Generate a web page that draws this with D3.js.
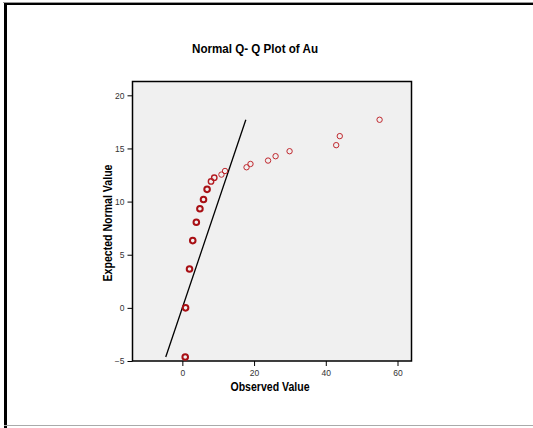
<!DOCTYPE html>
<html><head><meta charset="utf-8">
<script src="https://cdn.jsdelivr.net/npm/d3@7"></script>
<style>body{margin:0;background:#fff}svg{display:block}</style>
</head><body>
<script>
// Data
const observed = [0.8, 0.9, 2.0, 2.9, 3.9, 4.9, 5.9, 6.9, 8.0, 8.9, 10.9, 11.9, 17.9, 19.0, 23.9, 26.0, 29.9, 42.9, 43.9, 55.0];
const expected = [-4.63, 0.0, 3.65, 6.33, 8.06, 9.32, 10.2, 11.15, 11.9, 12.25, 12.54, 12.88, 13.23, 13.54, 13.86, 14.27, 14.74, 15.31, 16.16, 17.7];
const weight   = [3, 3, 3, 3, 3, 3, 3, 3, 2, 2, 1, 1, 1, 1, 1, 1, 1, 1, 1, 1];
const refLine  = [[-4.63, -4.63], [17.7, 17.7]];
const xTicks = [0, 20, 40, 60];
const yTicks = [-5, 0, 5, 10, 15, 20];
const title = "Normal Q- Q Plot of Au";
const xTitle = "Observed Value";
const yTitle = "Expected Normal Value";

const W = 533, H = 428;
const svg = d3.select("body").append("svg").attr("width", W).attr("height", H);

// page frame
svg.append("line").attr("x1",3).attr("x2",W).attr("y1",2.5).attr("y2",2.5).attr("stroke","#999").attr("stroke-width",1);
svg.append("line").attr("x1",4).attr("x2",W).attr("y1",4).attr("y2",4).attr("stroke","#000").attr("stroke-width",2);
svg.append("line").attr("x1",5.5).attr("x2",5.5).attr("y1",3).attr("y2",H).attr("stroke","#000").attr("stroke-width",3);
svg.append("line").attr("x1",4).attr("x2",W).attr("y1",425.5).attr("y2",425.5).attr("stroke","#aaa").attr("stroke-width",1);

const L = 132.5, R = 411.5, T = 81.5, B = 361;
const x = d3.scaleLinear().domain([-13.9, 63.9]).range([L, R]);
const y = d3.scaleLinear().domain([-5, 21.3]).range([B, T]);

svg.append("rect").attr("x",L).attr("y",T).attr("width",R-L).attr("height",B-T).attr("fill","#f0f0f0");

const font = "'Liberation Sans', Arial, sans-serif";

const xa = svg.append("g").attr("transform",`translate(0,${B})`)
  .call(d3.axisBottom(x).tickValues(xTicks).tickSize(5).tickSizeOuter(0).tickFormat(d3.format("d")));
const ya = svg.append("g").attr("transform",`translate(${L},0)`)
  .call(d3.axisLeft(y).tickValues(yTicks).tickSize(5).tickSizeOuter(0).tickFormat(d3.format("d")));
[xa, ya].forEach(g => {
  g.select(".domain").remove();
  g.selectAll(".tick line").attr("stroke","#000").attr("stroke-width",1);
  g.selectAll(".tick text").attr("fill","#333").style("font-family",font).style("font-size","8.5px");
});
xa.selectAll(".tick text").attr("dy","0.85em");

// frame of plot
svg.append("rect").attr("x",L).attr("y",T).attr("width",R-L).attr("height",B-T)
  .attr("fill","none").attr("stroke","#000").attr("stroke-width",1.5);

// reference line
svg.append("path").datum(refLine)
  .attr("d", d3.line().x(d => x(d[0])).y(d => y(d[1])))
  .attr("stroke","#000").attr("stroke-width",1.3).attr("fill","none");

// points
const pts = observed.map((o,i) => ({o, e: expected[i], w: weight[i]}));
svg.append("g").selectAll("circle").data(pts).join("circle")
  .attr("cx", d => x(d.o)).attr("cy", d => y(d.e))
  .attr("r", d => d.w >= 3 ? 2.8 : 2.7)
  .attr("fill","none")
  .attr("stroke", d => d.w >= 3 ? "#a80f14" : (d.w == 2 ? "#b41c22" : "#c0282e"))
  .attr("stroke-width", d => d.w >= 3 ? 2.0 : (d.w == 2 ? 1.4 : 1.0));

// titles
svg.append("text").attr("x",255).attr("y",53).attr("text-anchor","middle")
  .style("font-family",font).style("font-weight","bold").style("font-size","12px")
  .attr("textLength",126).attr("lengthAdjust","spacingAndGlyphs").text(title);
svg.append("text").attr("x",270).attr("y",391).attr("text-anchor","middle")
  .style("font-family",font).style("font-weight","bold").style("font-size","12px")
  .attr("textLength",79).attr("lengthAdjust","spacingAndGlyphs").text(xTitle);
svg.append("text").attr("transform","translate(112,223) rotate(-90)").attr("text-anchor","middle")
  .style("font-family",font).style("font-weight","bold").style("font-size","12px")
  .attr("textLength",117).attr("lengthAdjust","spacingAndGlyphs").text(yTitle);
</script>
</body></html>
